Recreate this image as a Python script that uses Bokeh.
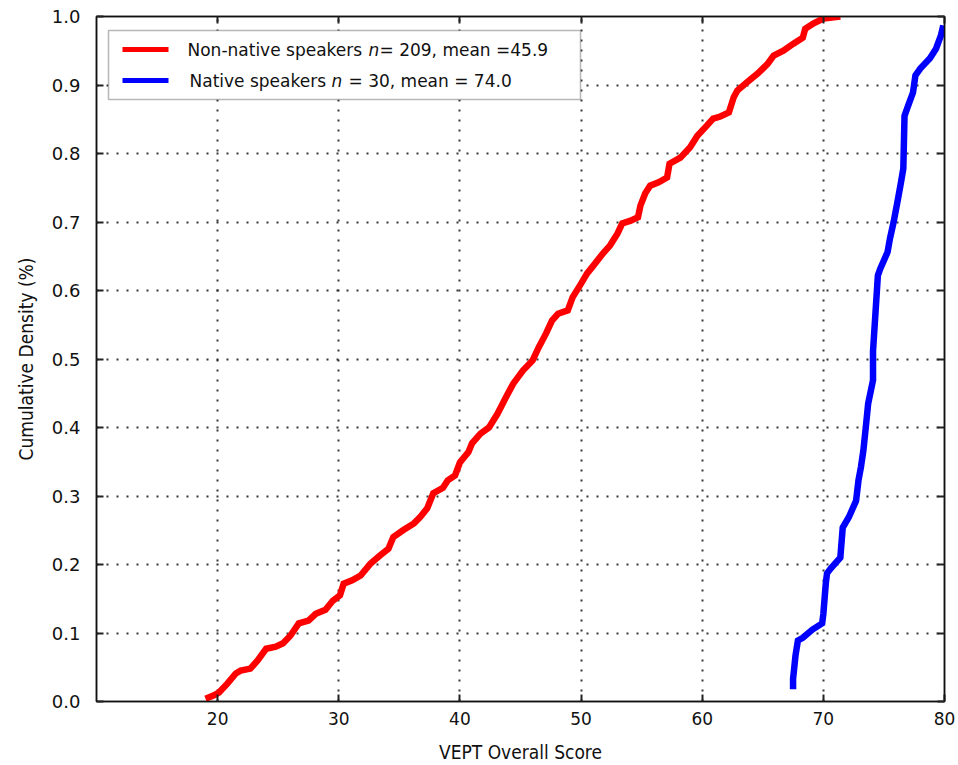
from bokeh.plotting import figure
from bokeh.models import (Range1d, LinearAxis, FixedTicker, Label, BoxAnnotation,
                          PrintfTickFormatter)
from bokeh.embed import file_html
from bokeh.resources import INLINE

# ---- data ----
nonnative_score = [19.0, 19.7, 20.1, 20.8, 21.5, 21.9, 22.7, 23.3, 24.0, 24.8, 25.4, 26.0,
                   26.7, 27.5, 28.1, 28.9, 29.5, 30.1, 30.4, 31.1, 31.8, 32.6, 33.4, 34.1,
                   34.5, 35.3, 36.2, 36.7, 37.3, 37.8, 38.6, 39.0, 39.6, 40.0, 40.7, 41.0,
                   41.7, 42.4, 43.1, 43.8, 44.4, 45.2, 46.0, 46.5, 47.1, 47.6, 48.1, 48.9,
                   49.3, 50.0, 50.5, 51.0, 51.8, 52.4, 53.0, 53.4, 54.1, 54.7, 54.9, 55.3,
                   55.7, 56.4, 57.1, 57.3, 58.2, 59.0, 59.6, 60.4, 60.9, 61.5, 62.2, 62.6,
                   62.9, 63.7, 64.6, 65.4, 65.9, 66.7, 67.5, 68.3, 68.5, 69.2, 70.0, 71.4]
nonnative_cdf = [0.004, 0.009, 0.013, 0.026, 0.041, 0.045, 0.048, 0.060, 0.077, 0.080, 0.085, 0.096,
                 0.114, 0.118, 0.128, 0.134, 0.147, 0.155, 0.172, 0.177, 0.184, 0.201, 0.213, 0.223,
                 0.240, 0.250, 0.260, 0.269, 0.282, 0.304, 0.312, 0.323, 0.330, 0.349, 0.364, 0.377,
                 0.391, 0.400, 0.420, 0.444, 0.464, 0.483, 0.498, 0.517, 0.537, 0.556, 0.566, 0.571,
                 0.590, 0.610, 0.625, 0.636, 0.654, 0.666, 0.683, 0.698, 0.702, 0.707, 0.724, 0.742,
                 0.753, 0.758, 0.765, 0.785, 0.794, 0.809, 0.826, 0.841, 0.851, 0.854, 0.860, 0.882,
                 0.892, 0.904, 0.917, 0.931, 0.943, 0.950, 0.960, 0.969, 0.982, 0.990, 0.997, 1.000]

native_score = [67.5, 67.5, 67.7, 67.9, 68.3, 69.1, 69.9, 70.0, 70.2, 70.3, 70.6, 71.4,
                71.6, 72.1, 72.7, 72.9, 73.1, 73.3, 73.5, 73.7, 74.1, 74.1, 74.2, 74.5,
                74.7, 75.3, 75.5, 75.8, 76.1, 76.4, 76.6, 76.7, 77.0, 77.4, 77.6, 78.0,
                78.8, 79.3, 79.7, 79.9]
native_cdf = [0.018, 0.033, 0.067, 0.089, 0.093, 0.105, 0.114, 0.128, 0.172, 0.187, 0.194, 0.210,
              0.254, 0.269, 0.293, 0.323, 0.342, 0.366, 0.400, 0.435, 0.469, 0.512, 0.539, 0.622,
              0.632, 0.656, 0.676, 0.700, 0.728, 0.757, 0.778, 0.855, 0.870, 0.889, 0.914, 0.924,
              0.939, 0.953, 0.972, 0.987]

x_ticks = [20, 30, 40, 50, 60, 70, 80]
y_ticks = [0.0, 0.1, 0.2, 0.3, 0.4, 0.5, 0.6, 0.7, 0.8, 0.9, 1.0]

x_label = "VEPT Overall Score"
y_label = "Cumulative Density (%)"
legend_rows = [
    ("Non-native speakers", "n", "= 209, mean =45.9"),
    ("Native speakers", "n", "= 30, mean = 74.0"),
]
series_colors = ["#ff0000", "#0000ff"]

# ---- figure ----
X0, X1 = 10, 80
p = figure(width=958, height=765, x_range=Range1d(X0, X1), y_range=Range1d(0, 1),
           output_backend="svg", toolbar_location=None,
           min_border_left=96, min_border_right=14, min_border_top=16, min_border_bottom=64)
p.background_fill_color = "white"
p.border_fill_color = "white"
p.outline_line_color = "#111111"
p.outline_line_width = 1.5

TICK_FONT = "DejaVu Sans"
TITLE_FONT = "DejaVu Sans Condensed, DejaVu Sans"

for ax in (p.xaxis[0], p.yaxis[0]):
    ax.major_tick_in = 7
    ax.major_tick_out = 0
    ax.minor_tick_line_color = None
    ax.major_tick_line_width = 2
    ax.major_tick_line_color = "#222222"
    ax.axis_line_width = 1.5
    ax.axis_line_color = "#111111"
    ax.major_label_text_font = TICK_FONT
    ax.major_label_text_font_size = "17px"
    ax.major_label_text_color = "#111111"
    ax.axis_label_text_font = TITLE_FONT
    ax.axis_label_text_font_size = "19px"
    ax.axis_label_text_font_style = "normal"
    ax.axis_label_text_color = "#111111"

p.yaxis.major_label_text_font_size = "18px"
p.xaxis.ticker = FixedTicker(ticks=x_ticks)
p.yaxis.ticker = FixedTicker(ticks=y_ticks)
p.yaxis.formatter = PrintfTickFormatter(format="%.1f")
p.xaxis.axis_label = x_label
p.yaxis.axis_label = y_label
p.xaxis.major_label_standoff = 10
p.yaxis.major_label_standoff = 16
p.xaxis.axis_label_standoff = 13
p.yaxis.axis_label_standoff = 12

# mirrored tick axes (top and right): ticks only, labels not drawn
top = LinearAxis(ticker=FixedTicker(ticks=x_ticks))
right = LinearAxis(ticker=FixedTicker(ticks=y_ticks))
for ax in (top, right):
    ax.major_tick_in = 7
    ax.major_tick_out = 0
    ax.minor_tick_line_color = None
    ax.major_tick_line_width = 2
    ax.major_tick_line_color = "#222222"
    ax.axis_line_width = 1.5
    ax.axis_line_color = "#111111"
    ax.major_label_text_font_size = "1px"
    ax.major_label_text_color = None
    ax.major_label_standoff = 0
p.add_layout(top, "above")
p.add_layout(right, "right")

# dotted grid
p.xgrid.ticker = FixedTicker(ticks=x_ticks)
p.ygrid.ticker = FixedTicker(ticks=y_ticks)
p.grid.grid_line_color = "#222222"
p.grid.grid_line_width = 2
p.grid.grid_line_dash = "2 8"
p.grid.grid_line_alpha = 0.9

# curves
p.line(nonnative_score, nonnative_cdf, line_color=series_colors[0], line_width=6.5,
       line_join="miter")
p.line(native_score, native_cdf, line_color=series_colors[1], line_width=6.5,
       line_join="miter")

# ---- legend (built from annotations so that "n" can be italic) ----
def sx(px):
    return X0 + (px - 96) * (X1 - X0) / 848.0

def sy(py):
    return (701 - py) / 685.0

p.add_layout(BoxAnnotation(left=sx(108), right=sx(580), top=sy(30), bottom=sy(99),
                           fill_color="white", fill_alpha=1.0,
                           line_color="#111111", line_width=1.5, level="overlay"))
row_y = [49, 80]
row_x = [(187, 368, 379), (189, 331, 348)]
for (a, n, b), c, ry, (xa, xn, xb) in zip(legend_rows, series_colors, row_y, row_x):
    p.add_layout(BoxAnnotation(left=sx(122), right=sx(168), top=sy(ry - 2.5), bottom=sy(ry + 2.5),
                               fill_color=c, fill_alpha=1.0, line_color=None, level="overlay"))
    for txt, xx, style in ((a, xa, "normal"), (n, xn, "italic"), (b, xb, "normal")):
        p.add_layout(Label(x=sx(xx), y=sy(ry), text=txt, text_font=TICK_FONT,
                           text_font_size="17px", text_font_style=style,
                           text_color="#111111", text_baseline="middle", level="overlay"))

open("out.html", "w").write(file_html(p, INLINE))
